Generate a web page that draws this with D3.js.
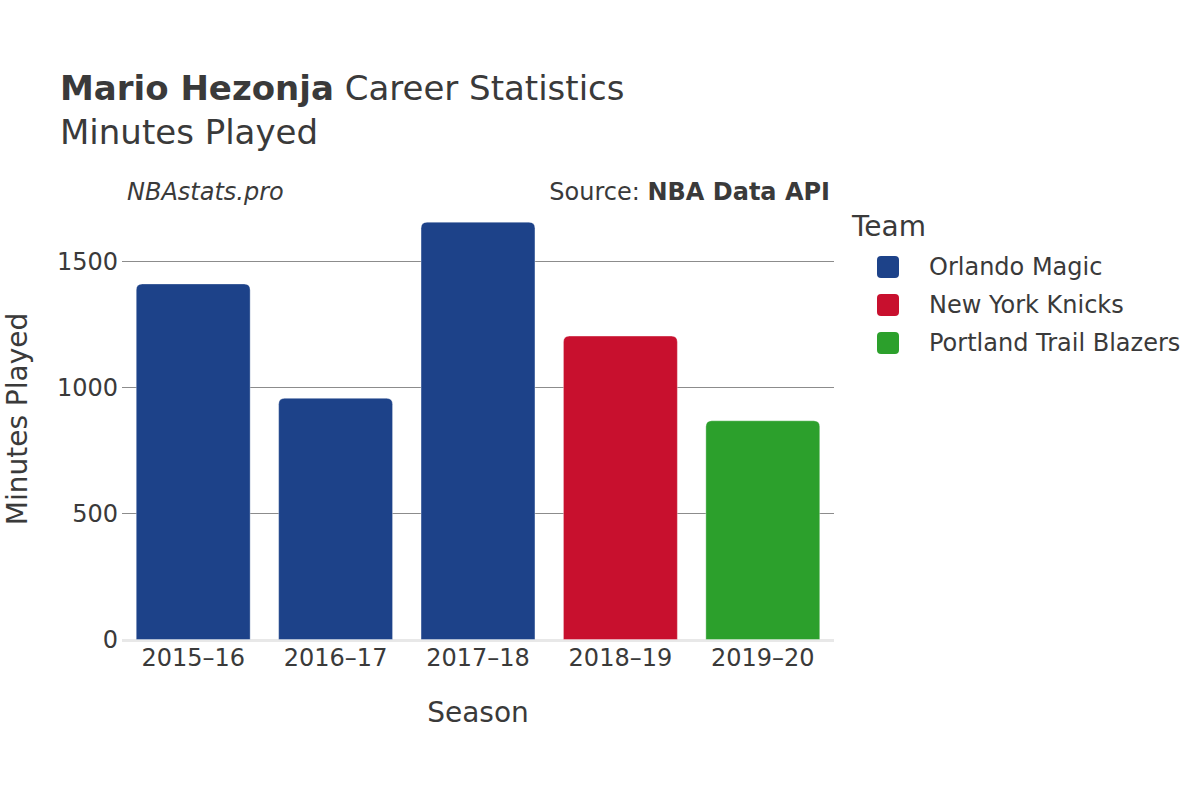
<html>
<head>
<meta charset="utf-8">
<title>Mario Hezonja Minutes Played</title>
<style>
  body { margin: 0; background: #fff; }
  svg text { font-family: "DejaVu Sans", sans-serif; fill: #3a3a3a; }
</style>
</head>
<body>
<div id="chart"></div>
<script src="https://d3js.org/d3.v7.min.js"></script>
<script>
// data
var seasons = ["2015–16", "2016–17", "2017–18", "2018–19", "2019–20"];
var minutes = [1411, 957, 1656, 1204, 868];
var seasonTeam = ["Orlando Magic", "Orlando Magic", "Orlando Magic", "New York Knicks", "Portland Trail Blazers"];
var teams = ["Orlando Magic", "New York Knicks", "Portland Trail Blazers"];
var teamColors = ["#1d4289", "#c8102e", "#2ca02c"];
var yTicks = [0, 500, 1000, 1500];

var width = 1200, height = 800;
var plot = { left: 122, right: 834, top: 222, bottom: 639.5 };

var svg = d3.select("#chart").append("svg")
    .attr("width", width)
    .attr("height", height);

var x = d3.scaleBand().domain(seasons).range([plot.left, plot.right]).paddingInner(0.2).paddingOuter(0.1);
var y = d3.scaleLinear().domain([0, 1500]).range([plot.bottom, plot.bottom - 378]);
var color = d3.scaleOrdinal().domain(teams).range(teamColors);

// grid lines
svg.append("g").selectAll("line")
    .data(yTicks.filter(function (d) { return d > 0; }))
    .enter().append("line")
    .attr("x1", plot.left).attr("x2", plot.right)
    .attr("y1", function (d) { return y(d); })
    .attr("y2", function (d) { return y(d); })
    .attr("stroke", "#8c8c8c").attr("stroke-width", 1);

// zero line
svg.append("line")
    .attr("x1", plot.left).attr("x2", plot.right)
    .attr("y1", y(0) + 1).attr("y2", y(0) + 1)
    .attr("stroke", "#e8e8e8").attr("stroke-width", 3);

// bars with rounded tops
function barPath(x0, w, yTop, yBot, r) {
    return "M" + x0 + "," + yBot +
        "V" + (yTop + r) +
        "Q" + x0 + "," + yTop + " " + (x0 + r) + "," + yTop +
        "H" + (x0 + w - r) +
        "Q" + (x0 + w) + "," + yTop + " " + (x0 + w) + "," + (yTop + r) +
        "V" + yBot + "Z";
}

svg.append("g").selectAll("path")
    .data(seasons)
    .enter().append("path")
    .attr("d", function (d, i) {
        return barPath(x(d), x.bandwidth(), y(minutes[i]), y(0), 6);
    })
    .attr("fill", function (d, i) { return color(seasonTeam[i]); })
    .attr("stroke", "#ffffff").attr("stroke-opacity", 0.35).attr("stroke-width", 1);

// y axis
var yAxis = svg.append("g")
    .attr("transform", "translate(" + plot.left + ",0)")
    .call(d3.axisLeft(y).tickValues(yTicks).tickFormat(d3.format("d")).tickSize(0).tickPadding(4));
yAxis.select(".domain").remove();
yAxis.selectAll("text").style("font-size", "24px").attr("fill", "#3a3a3a").attr("dy", "0.35em");

// x axis
var xAxis = svg.append("g")
    .attr("transform", "translate(0," + plot.bottom + ")")
    .call(d3.axisBottom(x).tickSize(0).tickPadding(9));
xAxis.select(".domain").remove();
xAxis.selectAll("text").style("font-size", "24px").attr("fill", "#3a3a3a");

// axis titles
svg.append("text")
    .attr("x", 478).attr("y", 722)
    .attr("text-anchor", "middle")
    .style("font-size", "28px")
    .text("Season");

svg.append("text")
    .attr("transform", "translate(27,419) rotate(-90)")
    .attr("text-anchor", "middle")
    .style("font-size", "28px")
    .text("Minutes Played");

// title
var title = svg.append("text").attr("x", 60).attr("y", 100).style("font-size", "34px");
title.append("tspan").style("font-weight", "bold").text("Mario Hezonja");
title.append("tspan").text(" Career Statistics");

svg.append("text")
    .attr("x", 60).attr("y", 144)
    .style("font-size", "34px")
    .text("Minutes Played");

svg.append("text")
    .attr("x", 127).attr("y", 200)
    .style("font-size", "24px").style("font-style", "italic")
    .text("NBAstats.pro");

var src = svg.append("text")
    .attr("x", 830).attr("y", 200)
    .attr("text-anchor", "end")
    .style("font-size", "24px");
src.append("tspan").text("Source: ");
src.append("tspan").style("font-weight", "bold").text("NBA Data API");

// legend
svg.append("text")
    .attr("x", 852).attr("y", 236)
    .style("font-size", "28px")
    .text("Team");

var legend = svg.append("g").selectAll("g")
    .data(teams)
    .enter().append("g")
    .attr("transform", function (d, i) { return "translate(877," + (267 + i * 38) + ")"; });

legend.append("rect")
    .attr("x", 0).attr("y", -11)
    .attr("width", 22).attr("height", 22)
    .attr("rx", 4)
    .attr("fill", function (d) { return color(d); });

legend.append("text")
    .attr("x", 52).attr("y", 0)
    .attr("dy", "0.35em")
    .style("font-size", "24px")
    .text(function (d) { return d; });
</script>
</body>
</html>
